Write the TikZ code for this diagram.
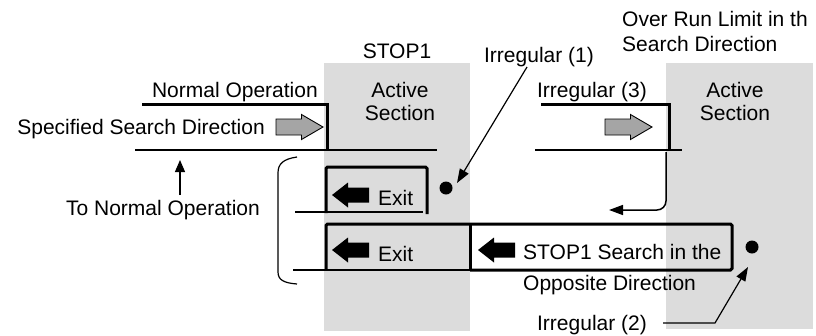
\documentclass[tikz,border=0pt]{standalone}
\usepackage{fontspec}
\setmainfont{Liberation Sans}
\usetikzlibrary{arrows.meta}
\definecolor{zone}{RGB}{220,220,220}
\definecolor{arrowgray}{RGB}{165,165,165}
\begin{document}
\begin{tikzpicture}[x=1pt,y=-1pt,
  txt/.style={font=\fontsize{21}{25}\selectfont, inner sep=0pt, anchor=base},
  thickln/.style={line width=3pt},
  thinln/.style={line width=1.2pt},
  tipped/.style={line width=1.2pt,-{Triangle[length=14pt,width=10pt]}},
  rarrow/.pic={\draw[line width=0.9pt, fill=arrowgray] (-23.5,-8) -- (2,-8) -- (2,-12.5) -- (23.5,0) -- (2,12.5) -- (2,8) -- (-23.5,8) -- cycle;},
  larrow/.pic={\fill (-19,0) -- (-3,-12.5) -- (-3,-7.5) -- (18,-7.5) -- (18,7.5) -- (-3,7.5) -- (-3,12.5) -- cycle;},
]
\useasboundingbox (0,0) rectangle (816,335);
% active sections
\fill[zone] (324,63) rectangle (470,331);
\fill[zone] (666,63) rectangle (813,329);

% texts
\node[txt] (stop) at (397,58) {STOP1};
\node[txt] (act1) at (400,97) {Active};
\node[txt] (sec1) at (400,120.5) {Section};
\node[txt] (act2) at (735,97) {Active};
\node[txt] (sec2) at (735,120.5) {Section};
\node[txt,anchor=base west] (over1) at (622,26.5) {Over Run Limit in th};
\node[txt,anchor=base west] (over2) at (622,51.5) {Search Direction};
\node[txt] (irr1) at (539,62) {Irregular (1)};
\node[txt] (irr3) at (592,97) {Irregular (3)};
\node[txt] (irr2) at (592,330) {Irregular (2)};
\node[txt,anchor=base east] (normal) at (318,97) {Normal Operation};
\node[txt,anchor=base east] (spec) at (265,134) {Specified Search Direction};
\node[txt] (tonormal) at (163,215) {To Normal Operation};
\node[txt,anchor=base west] (exit1) at (378,205) {Exit};
\node[txt,anchor=base west] (exit2) at (378,261) {Exit};
\node[txt,anchor=base west] (search) at (523,259) {STOP1 Search in the};
\node[txt,anchor=base west] (opp) at (523,290.5) {Opposite Direction};

% normal operation
\draw[thickln] (142,104) -- (327,104) -- (327,150);
\draw[thinln] (135,150) -- (437,150);
\pic at (299.5,127) {rarrow};

% irregular (3)
\draw[thickln] (541,104) -- (669,104) -- (669,150);
\draw[thinln] (535,150) -- (682,150);
\pic at (628.5,127) {rarrow};

% exit box 1
\draw[thickln, rounded corners=1.5pt] (326,213) -- (326,167) -- (427,167) -- (427,214);
\draw[thinln] (295,212) -- (423,212);
\pic at (351,195) {larrow};

% exit box 2 and search box
\draw[thickln, rounded corners=1.5pt] (326,270) -- (326,224) -- (732,224) -- (732,270) -- (470,270);
\draw[thickln] (470,224) -- (470,270);
\draw[thinln] (293,270) -- (470,270);
\pic at (351,250) {larrow};
\pic at (497,250) {larrow};

% dots
\fill (446,188) circle (6.5) coordinate (dot1);
\fill (752,247) circle (6.5) coordinate (dot2);

% connectors
\coordinate (irr1foot) at (527,67);
\coordinate (dot1tip) at (457,183);
\draw[tipped] (irr1foot) -- (dot1tip);

\coordinate (irr2start) at (663,323);
\coordinate (irr2bend) at (715,323);
\coordinate (dot2tip) at (748,267);
\draw[tipped] (irr2start) -- (irr2bend) -- (dot2tip);

\coordinate (retstart) at (666,152);
\coordinate (retcorner) at (666,210);
\coordinate (retend) at (609,210);
\draw[tipped, line width=1.5pt, rounded corners=9pt] (retstart) -- (retcorner) -- (retend);

\coordinate (tnstart) at (180,195);
\coordinate (tnend) at (180,160);
\draw[line width=1.2pt,-{Triangle[length=12pt,width=10pt]}] (tnstart) -- (tnend);

% bracket
\draw[thinln] (297,157) .. controls (283,159) and (278,164) .. (278,173) -- (278,272) .. controls (278,280) and (284,283) .. (297,284);
\end{tikzpicture}
\end{document}
